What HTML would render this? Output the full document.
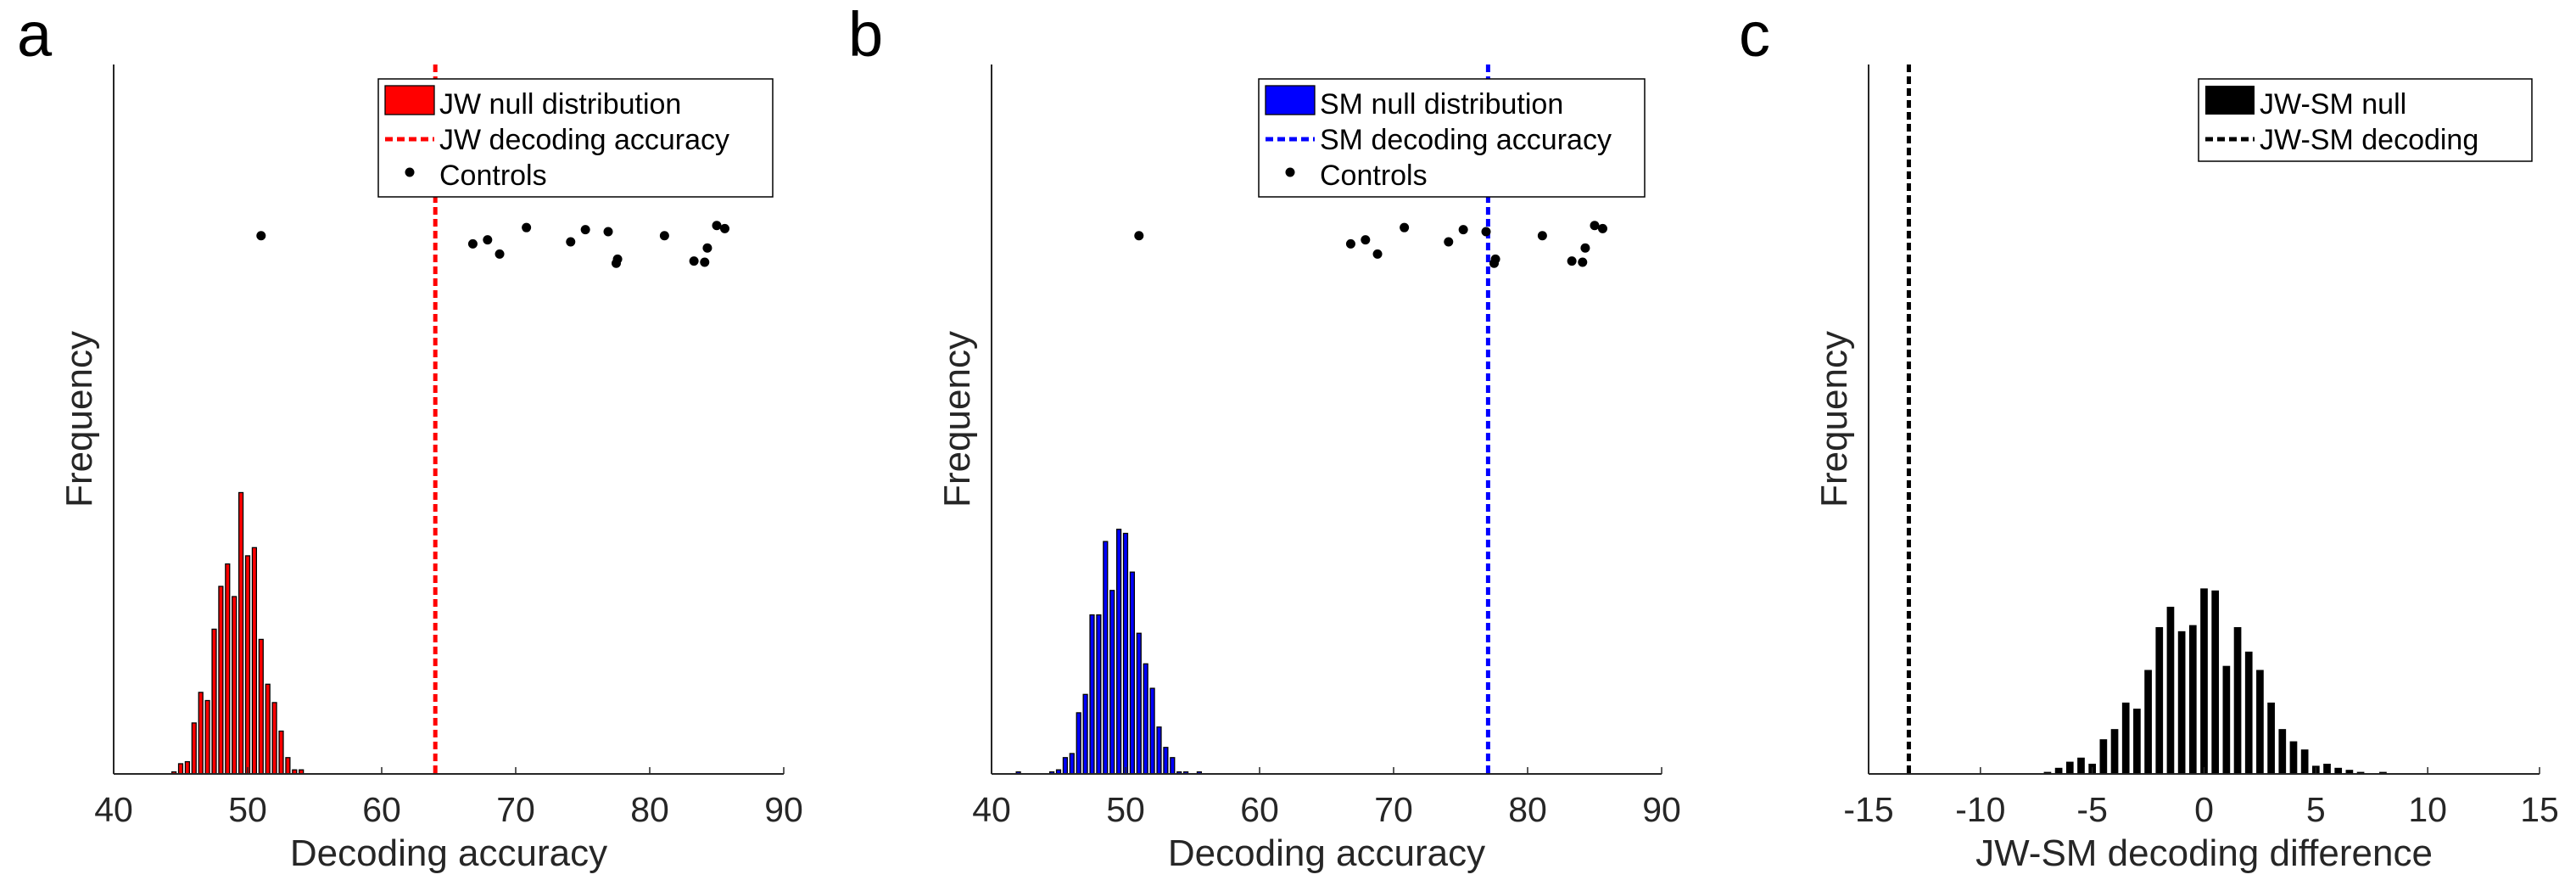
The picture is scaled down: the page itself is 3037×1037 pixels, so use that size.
<!DOCTYPE html>
<html><head><meta charset="utf-8">
<style>
html,body{margin:0;padding:0;background:#fff;}
svg{display:block;font-family:"Liberation Sans",Arial,sans-serif;}
</style></head>
<body>
<svg id="fig" width="3037" height="1037" viewBox="0 0 3037 1037" xmlns="http://www.w3.org/2000/svg">
<rect x="0" y="0" width="3037" height="1037" fill="#fff"/>
<text x="20" y="66" font-size="74" fill="#000">a</text>
<text x="1000" y="66" font-size="74" fill="#000">b</text>
<text x="2050" y="66" font-size="74" fill="#000">c</text>
</svg>
<script>
// Panel a data
const aBins = [44.5,45,45.5,46,46.5,47,47.5,48,48.5,49,49.5,50,50.5,51,51.5,52,52.5,53,53.5,54];
const aCounts = [1,5,6,25,40,36,71,92,103,87,138,107,111,66,44,35,21,8,2,2];
const aDecoding = 64;
// Panel b data
const bBins = [42,44.5,45,45.5,46,46.5,47,47.5,48,48.5,49,49.5,50,50.5,51,51.5,52,52.5,53,53.5,54,54.5,55.5];
const bCounts = [1,1,2,8,10,30,39,78,78,114,90,120,118,99,69,54,42,23,13,8,1,1,1];
const bDecoding = 77.05;
// Controls (shared by a and b)
const controlX = [51.0,66.8,67.9,68.8,70.8,74.1,75.2,76.9,77.6,77.5,81.1,83.3,84.1,84.3,85.0,85.6];
const controlY = [264,260,262,255,268,261,267,266,252.5,250.5,264,251.6,251,258,269,267.5];
// Panel c data
const cBins = [-7,-6.5,-6,-5.5,-5,-4.5,-4,-3.5,-3,-2.5,-2,-1.5,-1,-0.5,0,0.5,1,1.5,2,2.5,3,3.5,4,4.5,5,5.5,6,6.5,7,8];
const cCounts = [1,3,6,8,5,17,22,35,32,51,72,82,70,73,91,90,53,72,60,51,35,22,16,12,4,5,3,2,1,1];
const cDecoding = -13.2;
// Axis tick labels
const accTicks = [40,50,60,70,80,90];
const diffTicks = [-15,-10,-5,0,5,10,15];

const NS = 'http://www.w3.org/2000/svg';
const svg = document.getElementById('fig');
const TOP = 76, BASE = 912, YMAX = 348;
const INK = '#262626';
function mk(tag, attrs, parent){
  const e = document.createElementNS(NS, tag);
  for (const k in attrs) e.setAttribute(k, attrs[k]);
  (parent || svg).appendChild(e);
  return e;
}
function yScale(v){ return BASE - v / YMAX * (BASE - TOP); }

function panel(opt){
  const g = mk('g', {});
  
  
  const xs = v => opt.x0 + (v - opt.min) / (opt.max - opt.min) * (opt.x1 - opt.x0);
  const step = (opt.x1 - opt.x0) / (opt.max - opt.min) * 0.5;
  const bw = step * opt.wr;
  opt.bins.forEach((b, i) => {
    const y = yScale(opt.counts[i]);
    const r = mk('rect', {x: xs(b) - bw/2, y: y, width: bw, height: BASE - y, fill: opt.color,
      stroke: opt.edge ? '#000' : 'none', 'stroke-width': opt.edge ? 1.3 : 0}, g);
    
    
  });
  const ya = mk('line', {x1: opt.x0, y1: TOP, x2: opt.x0, y2: BASE, stroke: INK, 'stroke-width': 2}, g);
  
  
  const xa = mk('line', {x1: opt.x0, y1: BASE, x2: opt.x1, y2: BASE, stroke: INK, 'stroke-width': 2}, g);
  
  
  opt.ticks.forEach(t => {
    const x = xs(t);
    mk('line', {x1: x, y1: BASE, x2: x, y2: BASE - 8, stroke: INK, 'stroke-width': 1.5}, g);
    const tl = mk('text', {x: x, y: 968, 'font-size': 41, fill: INK, 'text-anchor': 'middle'}, g);
    tl.textContent = t;
    
    
  });
  const dl = mk('line', {x1: xs(opt.dec), y1: TOP, x2: xs(opt.dec), y2: BASE, stroke: opt.lineColor, 'stroke-width': 5, 'stroke-dasharray': '9 5'}, g);
  
  
  if (opt.dots) {
    controlX.forEach((cx, i) => {
      const c = mk('circle', {cx: xs(cx), cy: yScale(controlY[i]), r: 5.5, fill: '#000'}, g);
      
      
    });
  }
  const xl = mk('text', {x: (opt.x0 + opt.x1)/2, y: 1020, 'font-size': 44, fill: INK, 'text-anchor': 'middle'}, g);
  xl.textContent = opt.xlabel;
  
  
  const yl = mk('text', {x: 0, y: 0, 'font-size': 44, fill: INK, 'text-anchor': 'middle',
    transform: 'translate(' + (opt.x0 - 26) + ',494) rotate(-90)'}, g);
  yl.textContent = 'Frequency';
  
  
  const L = opt.legend;
  const lg = mk('g', {}, g);
  
  
  mk('rect', {x: L.x, y: 93, width: L.w, height: L.h, fill: '#fff', stroke: '#000', 'stroke-width': 1.5}, lg);
  mk('rect', {x: L.x + 8, y: 101, width: 58, height: 34, fill: opt.color, stroke: opt.edge ? '#000' : 'none', 'stroke-width': 1.3}, lg);
  mk('line', {x1: L.x + 8, y1: 164, x2: L.x + 66, y2: 164, stroke: opt.lineColor, 'stroke-width': 5, 'stroke-dasharray': '9 5'}, lg);
  L.labels.forEach((s, i) => {
    const t = mk('text', {x: L.x + 72, y: 134 + i * 42, 'font-size': 34, fill: '#000'}, lg);
    t.textContent = s;
    
    
  });
  if (opt.dots) mk('circle', {cx: L.x + 37, cy: 203, r: 5.5, fill: '#000'}, lg);
}

panel({name: 'panel-a', x0: 134, x1: 924, min: 40, max: 90, bins: aBins, counts: aCounts, color: '#ff0000', edge: true, wr: 0.62,
  ticks: accTicks, dec: aDecoding, lineColor: '#ff0000', dots: true, xlabel: 'Decoding accuracy',
  legend: {x: 446, w: 465, h: 139, labels: ['JW null distribution', 'JW decoding accuracy', 'Controls']}});
panel({name: 'panel-b', x0: 1169, x1: 1959, min: 40, max: 90, bins: bBins, counts: bCounts, color: '#0000ff', edge: true, wr: 0.62,
  ticks: accTicks, dec: bDecoding, lineColor: '#0000ff', dots: true, xlabel: 'Decoding accuracy',
  legend: {x: 1484, w: 455, h: 139, labels: ['SM null distribution', 'SM decoding accuracy', 'Controls']}});
panel({name: 'panel-c', x0: 2203, x1: 2994, min: -15, max: 15, bins: cBins, counts: cCounts, color: '#000000', edge: false, wr: 0.66,
  ticks: diffTicks, dec: cDecoding, lineColor: '#000000', dots: false, xlabel: 'JW-SM decoding difference',
  legend: {x: 2592, w: 393, h: 97, labels: ['JW-SM null', 'JW-SM decoding']}});
</script>
</body></html>
